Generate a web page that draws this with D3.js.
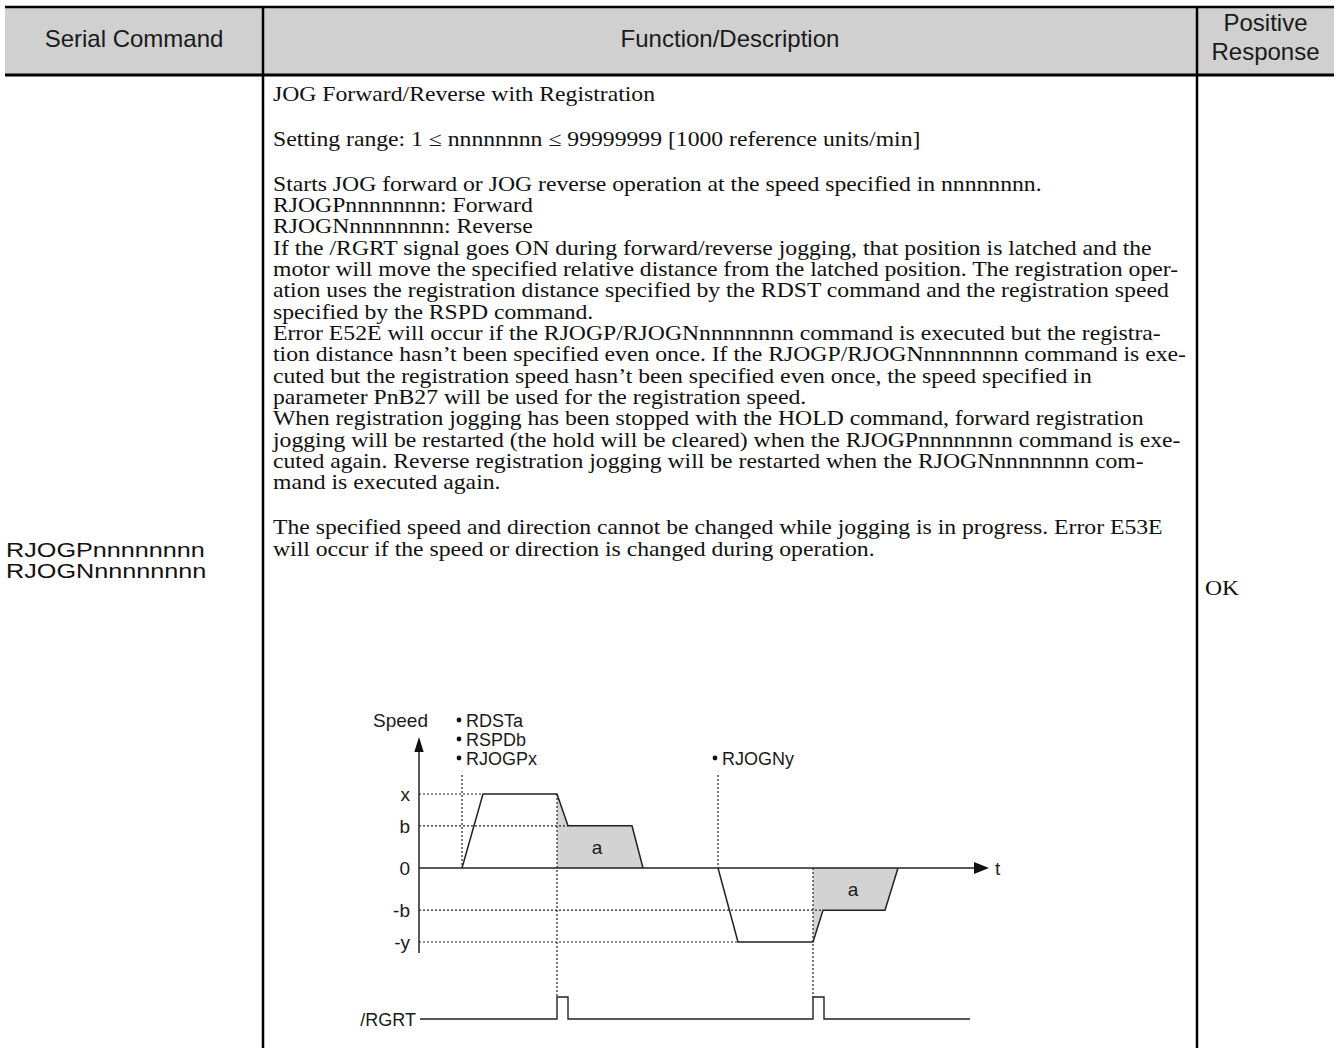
<!DOCTYPE html>
<html>
<head>
<meta charset="utf-8">
<script src="https://cdn.jsdelivr.net/npm/d3@7/dist/d3.min.js"></script>
<style>
  body { margin: 0; background: #fff; }
  svg { display: block; }
</style>
</head>
<body>
<script>
// ---- table text ----
var headerLabels = ["Serial Command", "Function/Description", "Positive|Response"];
var commandLines = ["RJOGPnnnnnnnn", "RJOGNnnnnnnnn"];
var responseText = "OK";

// "" = blank line (paragraph gap)
var descLines = [
  "JOG Forward/Reverse with Registration",
  "",
  "Setting range: 1 \u2264 nnnnnnnn \u2264 99999999 [1000 reference units/min]",
  "",
  "Starts JOG forward or JOG reverse operation at the speed specified in nnnnnnnn.",
  "RJOGPnnnnnnnn:  Forward",
  "RJOGNnnnnnnnn:  Reverse",
  "If the /RGRT signal goes ON during forward/reverse jogging, that position is latched and the",
  "motor will move the specified relative distance from the latched position. The registration oper-",
  "ation uses the registration distance specified by the RDST command and the registration speed",
  "specified by the RSPD command.",
  "Error E52E will occur if the RJOGP/RJOGNnnnnnnnn command is executed but the registra-",
  "tion distance hasn\u2019t been specified even once. If the RJOGP/RJOGNnnnnnnnn command is exe-",
  "cuted but the registration speed hasn\u2019t been specified even once, the speed specified in",
  "parameter PnB27 will be used for the registration speed.",
  "When registration jogging has been stopped with the HOLD command, forward registration",
  "jogging will be restarted (the hold will be cleared) when the RJOGPnnnnnnnn command is exe-",
  "cuted again. Reverse registration jogging will be restarted when the RJOGNnnnnnnnn com-",
  "mand is executed again.",
  "",
  "The specified speed and direction cannot be changed while jogging is in progress. Error E53E",
  "will occur if the speed or direction is changed during operation."
];

// ---- diagram data (time units, speed levels) ----
var levelNames  = ["x", "b", "0", "-b", "-y"];
var levelValues = [1, 0.57, 0, -0.57, -1];
var fwdProfile  = [[43, 0], [64, 1], [138, 1], [149, 0.57], [213, 0.57], [224, 0]];
var revProfile  = [[299, 0], [319, -1], [394, -1], [404, -0.57], [466, -0.57], [479, 0]];
var fwdShade    = [[138, 1], [149, 0.57], [213, 0.57], [224, 0]];
var revShade    = [[394, -1], [404, -0.57], [466, -0.57], [479, 0]];
var levelReach  = [64, 149, 0, 404, 319];        // where each dotted level line stops
var fwdCommands = ["RDSTa", "RSPDb", "RJOGPx"];
var revCommands = ["RJOGNy"];
var cmdTimes    = [43, 299];
var rgrtTimes   = [138, 394];
var pulseWidth  = 11;
var shadeLabels = [[178, 0.28], [434, -0.28]];
var tEnd = 570;

var W = 1339, H = 1048;
var colX = [5, 263, 1197, 1334];
var headTop = 7, headBot = 75;

var svg = d3.select("body").append("svg")
  .attr("width", W).attr("height", H);

svg.append("rect").attr("width", W).attr("height", H).attr("fill", "#fff");

// header
svg.append("rect")
  .attr("x", colX[0]).attr("y", headTop)
  .attr("width", colX[3] - colX[0]).attr("height", headBot - headTop)
  .attr("fill", "#d0d0d0");
svg.append("line").attr("x1", colX[0]).attr("x2", colX[3])
  .attr("y1", headTop).attr("y2", headTop)
  .attr("stroke", "#000").attr("stroke-width", 2.5);
svg.append("line").attr("x1", colX[0]).attr("x2", colX[3])
  .attr("y1", headBot).attr("y2", headBot)
  .attr("stroke", "#000").attr("stroke-width", 3);
[colX[1], colX[2]].forEach(function (x) {
  svg.append("line").attr("x1", x).attr("x2", x)
    .attr("y1", headTop).attr("y2", H)
    .attr("stroke", "#000").attr("stroke-width", 2.5);
});

var sans = "'Liberation Sans', Arial, sans-serif";
var serif = "'Liberation Serif', 'Times New Roman', serif";

headerLabels.forEach(function (lbl, i) {
  var cx = (colX[i] + colX[i + 1]) / 2;
  var parts = lbl.split("|");
  var y0 = parts.length === 1 ? 47 : 31;
  parts.forEach(function (p, j) {
    svg.append("text")
      .attr("x", cx).attr("y", y0 + j * 29)
      .attr("text-anchor", "middle")
      .attr("font-family", sans).attr("font-size", 24)
      .attr("fill", "#1a1a1a")
      .text(p);
  });
});

// body: serif text is stretched wider than tall in the reference
var sx = 1.185, bodySize = 20;
function stretched(g, str, x, y, family, size, scaleX) {
  return g.append("text")
    .attr("transform", "translate(" + x + "," + y + ") scale(" + scaleX + ",1)")
    .attr("font-family", family).attr("font-size", size)
    .attr("fill", "#111")
    .text(str);
}

var body = svg.append("g");
var y = 100.5, lineGap = 21.35, blankGap = 23.65;
descLines.forEach(function (ln, i) {
  if (i > 0) y += lineGap;
  if (ln === "") { y += blankGap - lineGap; return; }
  stretched(body, ln, 273, y, serif, bodySize, sx);
});

commandLines.forEach(function (c, i) {
  stretched(body, c, 6, 557 + i * 21, sans, 21, 1.2);
});
stretched(body, responseText, 1205, 595, serif, bodySize, sx);

// ---- diagram ----
var xs = d3.scaleLinear().domain([0, tEnd]).range([419, 989]);
var ys = d3.scaleLinear().domain([-1, 1]).range([942, 794]);
var sig = d3.scaleLinear().domain([0, 1]).range([1019, 997]);
var dg = svg.append("g").attr("font-family", sans).attr("fill", "#1a1a1a");

var area = d3.area().x(function (d) { return xs(d[0]); })
  .y0(ys(0)).y1(function (d) { return ys(d[1]); });
[fwdShade, revShade].forEach(function (s) {
  dg.append("path").attr("d", area(s)).attr("fill", "#d3d3d3");
});

function dline(x1, y1, x2, y2) {
  dg.append("line").attr("x1", x1).attr("y1", y1).attr("x2", x2).attr("y2", y2)
    .attr("stroke", "#222").attr("stroke-width", 1.2)
    .attr("stroke-dasharray", "2,2");
}
levelValues.forEach(function (v, i) {
  if (v !== 0) dline(xs(0), ys(v), xs(levelReach[i]), ys(v));
});
cmdTimes.forEach(function (t) { dline(xs(t), 775, xs(t), ys(0)); });
dline(xs(rgrtTimes[0]), ys(1), xs(rgrtTimes[0]), sig(1));
dline(xs(rgrtTimes[1]), ys(0), xs(rgrtTimes[1]), sig(1));

// axes
dg.append("line").attr("x1", xs(0)).attr("x2", xs(0))
  .attr("y1", 953).attr("y2", 750).attr("stroke", "#222").attr("stroke-width", 1.5);
dg.append("path")
  .attr("d", "M" + xs(0) + ",737 l-4.7,15 h9.4 z").attr("fill", "#111");
dg.append("line").attr("x1", xs(0)).attr("x2", xs(tEnd) - 14)
  .attr("y1", ys(0)).attr("y2", ys(0)).attr("stroke", "#222").attr("stroke-width", 1.5);
dg.append("path")
  .attr("d", "M" + xs(tEnd) + "," + ys(0) + " l-15,-6 v12 z").attr("fill", "#111");
dg.append("text").attr("x", xs(tEnd) + 6).attr("y", ys(0) + 6.5)
  .attr("font-size", 19).text("t");
dg.append("text").attr("x", 428).attr("y", 727)
  .attr("text-anchor", "end").attr("font-size", 19).text("Speed");

levelNames.forEach(function (n, i) {
  dg.append("text").attr("x", 410).attr("y", ys(levelValues[i]) + 7)
    .attr("text-anchor", "end").attr("font-size", 19).text(n);
});

var line = d3.line().x(function (d) { return xs(d[0]); }).y(function (d) { return ys(d[1]); });
[fwdProfile, revProfile].forEach(function (p) {
  dg.append("path").attr("d", line(p)).attr("fill", "none")
    .attr("stroke", "#222").attr("stroke-width", 1.5);
});

shadeLabels.forEach(function (p) {
  dg.append("text").attr("x", xs(p[0])).attr("y", ys(p[1]) + 7)
    .attr("text-anchor", "middle").attr("font-size", 19).text("a");
});

// command bullets
[fwdCommands, revCommands].forEach(function (list, k) {
  var bx = xs(cmdTimes[k]) - 3;
  list.forEach(function (c, j) {
    var cy = 758 - (list.length - 1 - j) * 19;
    dg.append("circle").attr("cx", bx).attr("cy", cy).attr("r", 2.4).attr("fill", "#111");
    dg.append("text").attr("x", bx + 7).attr("y", cy + 6.5).attr("font-size", 18).text(c);
  });
});

// /RGRT signal
var sigPts = [[1, 0]];
rgrtTimes.forEach(function (t) {
  sigPts.push([t, 0], [t, 1], [t + pulseWidth, 1], [t + pulseWidth, 0]);
});
sigPts.push([551, 0]);
var sigLine = d3.line().x(function (d) { return xs(d[0]); }).y(function (d) { return sig(d[1]); });
dg.append("path").attr("d", sigLine(sigPts)).attr("fill", "none")
  .attr("stroke", "#222").attr("stroke-width", 1.4);
dg.append("text").attr("x", xs(0) - 3).attr("y", sig(0) + 6.5)
  .attr("text-anchor", "end").attr("font-size", 18).text("/RGRT");
</script>
</body>
</html>
